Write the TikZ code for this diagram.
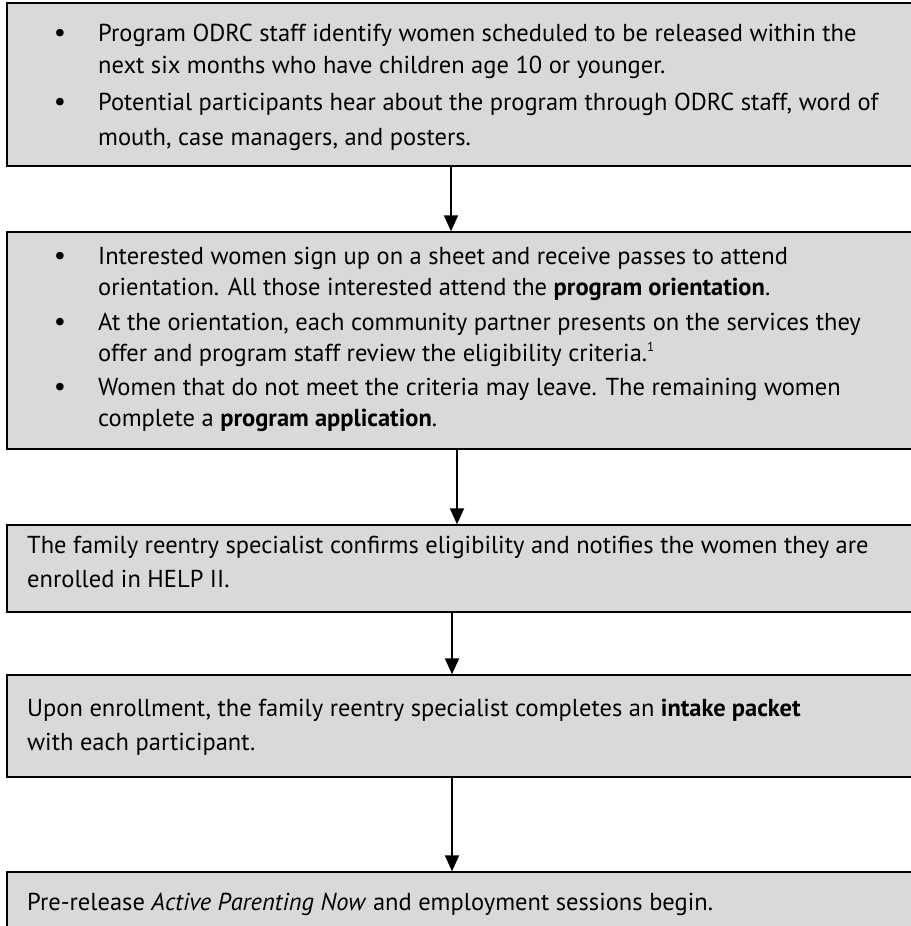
\documentclass[tikz,border=0pt]{standalone}
\usepackage{fontspec}
\setmainfont{PT Sans}
\usetikzlibrary{arrows.meta}
\definecolor{boxgray}{HTML}{D9D9D9}
\tikzset{
  x=1pt,y=-1pt,
  txt/.style={anchor=base west,inner sep=0pt,font=\fontsize{24.5}{28}\selectfont},
  bul/.style={anchor=base,inner sep=0pt,font=\fontsize{27}{28}\selectfont},
  flow/.style={draw=black,line width=2pt,-{Triangle[width=14pt,length=16pt]}},
  boxs/.style={fill=boxgray,draw=black},
}
\begin{document}
\begin{tikzpicture}
\useasboundingbox (0,0) rectangle (910,926);
% boxes
\path[boxs,line width=1.2pt] (7,3) rectangle (915,166);
\path[boxs,line width=2.6pt] (7,232) rectangle (915,449);
\path[boxs,line width=2pt] (7,525) rectangle (915,612);
\path[boxs,line width=1.4pt] (7,675) rectangle (915,777);
\path[boxs,line width=1.4pt] (7,872) rectangle (915,940);
\node[inner sep=0pt] (b1) at (451,166) {};
\node[inner sep=0pt] (b2t) at (451,232) {};
\node[inner sep=0pt] (b2) at (457,449) {};
\node[inner sep=0pt] (b3t) at (457,525) {};
\node[inner sep=0pt] (b3) at (452,612) {};
\node[inner sep=0pt] (b4t) at (452,675) {};
\node[inner sep=0pt] (b4) at (452,777) {};
\node[inner sep=0pt] (b5t) at (452,872) {};
\draw[flow] (b1) -- (b2t);
\draw[flow] (b2) -- (b3t);
\draw[flow] (b3) -- (b4t);
\draw[flow] (b4) -- (b5t);
% box 1
\node[bul] (u1) at (60,41) {•};
\node[txt] (t1a) at (98,41) {Program ODRC staff identify women scheduled to be released within the};
\node[txt] (t1b) at (98,73) {next six months who have children age 10 or younger.};
\node[bul] (u2) at (60,110) {•};
\node[txt] (t1c) at (98,110) {Potential participants hear about the program through ODRC staff, word of};
\node[txt] (t1d) at (98,145) {mouth, case managers, and posters.};
% box 2
\node[bul] (u3) at (60,264) {•};
\node[txt] (t2a) at (98,264) {Interested women sign up on a sheet and receive passes to attend};
\node[txt] (t2b) at (98,295) {orientation. All those interested attend the \textbf{program orientation}.};
\node[bul] (u4) at (60,330) {•};
\node[txt] (t2c) at (98,330) {At the orientation, each community partner presents on the services they};
\node[txt] (t2d) at (98,361) {offer and program staff review the eligibility criteria.\textsuperscript{\fontsize{13}{13}\selectfont 1}};
\node[bul] (u5) at (60,395) {•};
\node[txt] (t2e) at (98,395) {Women that do not meet the criteria may leave. The remaining women};
\node[txt] (t2f) at (98,426) {complete a \textbf{program application}.};
% box 3
\node[txt] (t3a) at (27,553) {The family reentry specialist confirms eligibility and notifies the women they are};
\node[txt] (t3b) at (27,587) {enrolled in HELP II.};
% box 4
\node[txt] (t4a) at (27,716) {Upon enrollment, the family reentry specialist completes an \textbf{intake packet}};
\node[txt] (t4b) at (27,750) {with each participant.};
% box 5
\node[txt] (t5a) at (27,910) {Pre-release \textit{Active Parenting Now} and employment sessions begin.};
\end{tikzpicture}
\end{document}
